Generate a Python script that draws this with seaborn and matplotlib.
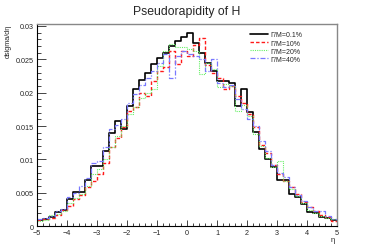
import numpy as np
import pandas as pd
import matplotlib
matplotlib.use("Agg")
import matplotlib.pyplot as plt
import seaborn as sns
from matplotlib.lines import Line2D
from matplotlib.ticker import MultipleLocator, FuncFormatter

# 50 bins of width 0.2 from -5 to 5
bin_edges = np.linspace(-5, 5, 51)
eta = (bin_edges[:-1] + bin_edges[1:]) / 2

gm_01 = [0.0009, 0.0011, 0.0013, 0.0021, 0.0024,
         0.0040, 0.0051, 0.0051, 0.0069, 0.0090,
         0.0090, 0.0112, 0.0140, 0.0158, 0.0146,
         0.0180, 0.0205, 0.0219, 0.0230, 0.0243,
         0.0252, 0.0260, 0.0270, 0.0277, 0.0284,
         0.0289, 0.0274, 0.0260, 0.0245, 0.0233,
         0.0218, 0.0218, 0.0215, 0.0180, 0.0205,
         0.0171, 0.0141, 0.0115, 0.0100, 0.0089,
         0.0069, 0.0069, 0.0048, 0.0043, 0.0033,
         0.0021, 0.0019, 0.0014, 0.0012, 0.0009]

gm_10 = [0.0009, 0.0010, 0.0012, 0.0017, 0.0024,
         0.0030, 0.0040, 0.0047, 0.0058, 0.0068,
         0.0078, 0.0095, 0.0118, 0.0132, 0.0148,
         0.0172, 0.0178, 0.0200, 0.0195, 0.0218,
         0.0232, 0.0238, 0.0262, 0.0243, 0.0262,
         0.0255, 0.0272, 0.0282, 0.0242, 0.0230,
         0.0222, 0.0205, 0.0210, 0.0195, 0.0185,
         0.0168, 0.0148, 0.0122, 0.0110, 0.0092,
         0.0078, 0.0068, 0.0058, 0.0048, 0.0036,
         0.0028, 0.0022, 0.0016, 0.0013, 0.0008]

gm_20 = [0.0007, 0.0009, 0.0016, 0.0018, 0.0023,
         0.0034, 0.0042, 0.0048, 0.0060, 0.0078,
         0.0085, 0.0100, 0.0118, 0.0135, 0.0150,
         0.0168, 0.0178, 0.0192, 0.0200, 0.0205,
         0.0240, 0.0262, 0.0273, 0.0268, 0.0268,
         0.0265, 0.0262, 0.0228, 0.0245, 0.0235,
         0.0208, 0.0213, 0.0210, 0.0172, 0.0182,
         0.0165, 0.0138, 0.0120, 0.0102, 0.0088,
         0.0098, 0.0068, 0.0055, 0.0045, 0.0035,
         0.0024, 0.0020, 0.0015, 0.0012, 0.0010]

gm_40 = [0.0011, 0.0012, 0.0015, 0.0022, 0.0026,
         0.0043, 0.0050, 0.0060, 0.0072, 0.0094,
         0.0098, 0.0118, 0.0145, 0.0152, 0.0160,
         0.0185, 0.0198, 0.0212, 0.0222, 0.0232,
         0.0245, 0.0258, 0.0222, 0.0255, 0.0262,
         0.0258, 0.0255, 0.0250, 0.0232, 0.0250,
         0.0215, 0.0208, 0.0212, 0.0190, 0.0175,
         0.0160, 0.0150, 0.0128, 0.0112, 0.0092,
         0.0080, 0.0074, 0.0058, 0.0047, 0.0037,
         0.0029, 0.0023, 0.0022, 0.0015, 0.0010]

labels = ["\u0393/M=0.1%", "\u0393/M=10%", "\u0393/M=20%", "\u0393/M=40%"]
colors = ["#000000", "#ff1a1a", "#66f066", "#7878ff"]
styles = ["-", (0, (2.5, 1.5)), (0, (1, 1)), (0, (4, 1.5, 1, 1.5))]
widths = [1.2, 1.0, 0.8, 0.9]

sns.set_style("ticks")
plt.rcParams['font.family'] = ['Liberation Sans', 'DejaVu Sans']

fig = plt.figure(figsize=(3.74, 2.53), dpi=100)
ax = fig.add_axes([37 / 374, 1 - 227 / 253, 300 / 374, 202 / 253])

for vals, lab, c, ls, lw in zip([gm_01, gm_10, gm_20, gm_40], labels, colors, styles, widths):
    df = pd.DataFrame({"eta": eta, "w": vals})
    sns.histplot(data=df, x="eta", weights="w", binwidth=0.2, binrange=(-5, 5),
                 element="step", fill=False, color=c, linestyle=ls, linewidth=lw, ax=ax)

ax.set_xlim(-5, 5)
ax.set_ylim(0, 0.0303)
ax.set_xlabel("")
ax.set_ylabel("")

ax.xaxis.set_major_locator(MultipleLocator(1))
ax.xaxis.set_minor_locator(MultipleLocator(0.2))
ax.yaxis.set_major_locator(MultipleLocator(0.005))
ax.yaxis.set_minor_locator(MultipleLocator(0.001))
ax.yaxis.set_major_formatter(FuncFormatter(lambda v, p: "%g" % round(v, 4)))
ax.tick_params(axis="both", which="both", direction="in", labelsize=5.2, width=0.6)
ax.tick_params(axis="y", which="major", length=6.5, pad=2)
ax.tick_params(axis="y", which="minor", length=3)
ax.tick_params(axis="x", which="major", length=4.3, pad=2)
ax.tick_params(axis="x", which="minor", length=2.2)

for side in ["left", "bottom"]:
    ax.spines[side].set_color("black")
    ax.spines[side].set_linewidth(0.8)
for side in ["top", "right"]:
    ax.spines[side].set_visible(True)
    ax.spines[side].set_color("#888888")
    ax.spines[side].set_linewidth(1.0)

handles = [Line2D([], [], color=c, linestyle=ls, linewidth=lw)
           for c, ls, lw in zip(colors, styles, widths)]
ax.legend(handles, labels, loc="upper left", bbox_to_anchor=(247 / 374, 1 - 29 / 253),
          bbox_transform=fig.transFigure, frameon=False, fontsize=5,
          handlelength=2.5, handletextpad=0.4, labelspacing=0.15, borderpad=0)

fig.text(187 / 374, 1 - 12 / 253, "Pseudorapidity of H", ha="center", va="center", fontsize=8.8)
fig.text(8 / 374, 1 - 25 / 253, "dsigma/d\u03b7", rotation=90, ha="center", va="top", fontsize=5.2)
fig.text(333 / 374, 1 - 241 / 253, "\u03b7", ha="center", va="center", fontsize=5.5)

fig.savefig("out.png", dpi=100)
